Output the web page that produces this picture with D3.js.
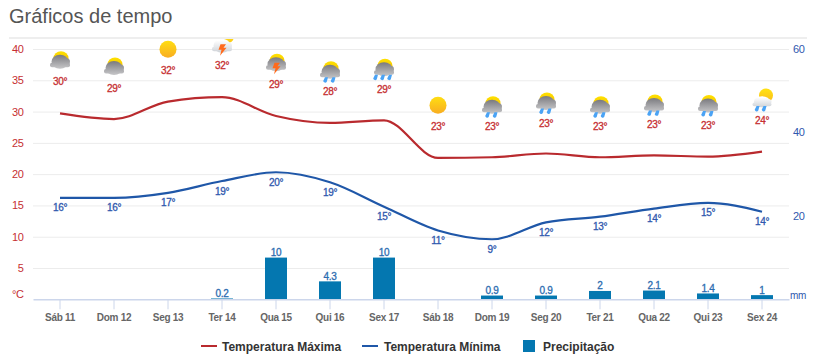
<!DOCTYPE html>
<html lang="pt">
<head>
<meta charset="utf-8">
<title>Gráficos de tempo</title>
<script src="https://cdn.jsdelivr.net/npm/d3@7"></script>
<style>
    body { margin: 0; background: #ffffff; font-family: "Liberation Sans", Arial, sans-serif; }
    svg { display: block; }
    text { font-family: "Liberation Sans", Arial, sans-serif; }
</style>
</head>
<body>
<div id="canvas"></div>
<script>
"use strict"

// Values
let days = ["Sáb 11", "Dom 12", "Seg 13", "Ter 14", "Qua 15", "Qui 16", "Sex 17",
    "Sáb 18", "Dom 19", "Seg 20", "Ter 21", "Qua 22", "Qui 23", "Sex 24"];
let tempMax = [29.7, 28.8, 31.6, 32.3, 29.3, 28.2, 28.6, 22.6, 22.7, 23.3, 22.7, 23.0, 22.8, 23.6];
let tempMin = [16.2, 16.2, 17.0, 18.9, 20.3, 18.7, 14.8, 11.0, 9.6, 12.3, 13.2, 14.5, 15.4, 14.0];
let tempMaxLabels = [30, 29, 32, 32, 29, 28, 29, 23, 23, 23, 23, 23, 23, 24];
let tempMinLabels = [16, 16, 17, 19, 20, 19, 15, 11, 9, 12, 13, 14, 15, 14];
let precipitation = [0, 0, 0, 0.2, 10, 4.3, 10, 0, 0.9, 0.9, 2, 2.1, 1.4, 1];
// Weather icons sit on a hidden series measured on the temperature axis
let iconLevels = [38.2, 37.2, 39.95, 40.75, 37.8, 36.6, 37.0, 31.0, 31.0, 31.6, 31.0, 31.3, 31.2, 32.0];
let iconTypes = ["cloudy", "cloudy", "sun", "lightStorm", "storm", "rain", "heavyRain",
    "sun", "rain", "rain", "rain", "rain", "rain", "lightRain"];
let tempTicks = [0, 5, 10, 15, 20, 25, 30, 35, 40];
let precipTicks = [0, 20, 40, 60];

let svgWidth = 813;
let svgHeight = 358;
let plotLeft = 33;
let plotRight = 789;
let plotTop = 38;
let plotBottom = 299.3;

let red = "#b92a2e";
let blue = "#1f57a8";
let labelRed = "#c62f32";
let labelBlue = "#2f58ae";
let barBlue = "#0477b0";

let svg = d3.select("#canvas")
    .append("svg")
    .attr("width", svgWidth)
    .attr("height", svgHeight);

let xScale = d3.scaleBand()
    .domain(days)
    .range([plotLeft, plotRight]);
let yTemp = d3.scaleLinear()
    .domain([0, 40])
    .range([plotBottom, 49]);
let yPrecip = d3.scaleLinear()
    .domain([0, 60])
    .range([plotBottom, 49]);

function centerX(i) {
    return xScale(days[i]) + xScale.bandwidth() / 2;
}

// Gradients and clip used by the icons
let defs = svg.append("defs");

function addGradient(id, x1, y1, x2, y2, stops) {
    let gradient = defs.append("linearGradient")
        .attr("id", id)
        .attr("gradientUnits", "userSpaceOnUse")
        .attr("x1", x1).attr("y1", y1).attr("x2", x2).attr("y2", y2);
    stops.forEach(function (s) {
        gradient.append("stop").attr("offset", s[0]).attr("stop-color", s[1]);
    });
}
addGradient("sunFill", 0, -9, 0, 9, [[0, "#ffdf12"], [1, "#f8ab22"]]);
addGradient("domeFill", 0, -9, 0, 0, [[0, "#ffe100"], [1, "#f6c400"]]);
addGradient("darkCloud", 0, -6, 0, 8, [[0, "#77777c"], [1, "#c4c4c6"]]);
addGradient("lightCloud", 0, -4, 0, 8, [[0, "#ffffff"], [1, "#cfd3d8"]]);

defs.append("clipPath")
    .attr("id", "plotClip")
    .append("rect")
    .attr("x", 0)
    .attr("y", plotTop + 1)
    .attr("width", svgWidth)
    .attr("height", svgHeight);

// Title and the rule under it
svg.append("text")
    .attr("x", 9)
    .attr("y", 23)
    .attr("font-size", 20)
    .attr("fill", "#555555")
    .text("Gráficos de tempo");

svg.append("line")
    .attr("x1", 9)
    .attr("x2", 807)
    .attr("y1", plotTop)
    .attr("y2", plotTop)
    .attr("stroke", "#dddddd")
    .attr("stroke-width", 1);

// Left axis, its ticks double as the grid
let leftAxis = svg.append("g")
    .attr("transform", "translate(" + plotLeft + ",0)")
    .call(d3.axisLeft(yTemp)
        .tickValues(tempTicks)
        .tickSize(-(plotRight - plotLeft))
        .tickFormat(function (d) { return d === 0 ? "°C" : d; }));
leftAxis.select(".domain").remove();
leftAxis.selectAll(".tick line")
    .attr("stroke", "#ececec")
    .attr("display", function (d) { return d === 0 ? "none" : null; });
leftAxis.selectAll(".tick text")
    .attr("x", -9.5)
    .attr("dy", function (d) { return d === 0 ? "-0.15em" : "0.32em"; })
    .attr("font-size", 11)
    .attr("letter-spacing", "-0.4px")
    .attr("fill", labelRed);

// Right axis for precipitation
let rightAxis = svg.append("g")
    .attr("transform", "translate(" + plotRight + ",0)")
    .call(d3.axisRight(yPrecip)
        .tickValues(precipTicks)
        .tickSize(0)
        .tickFormat(function (d) { return d === 0 ? "mm" : d; }));
rightAxis.select(".domain").remove();
rightAxis.selectAll(".tick text")
    .attr("x", function (d) { return d === 0 ? 1 : 4; })
    .attr("dy", function (d) { return d === 0 ? "-0.1em" : "0.32em"; })
    .attr("font-size", function (d) { return d === 0 ? 10 : 11; })
    .attr("letter-spacing", "-0.3px")
    .attr("fill", labelBlue);

// Precipitation bars and their values
svg.selectAll(".bar")
    .data(precipitation)
    .join("rect")
    .attr("class", "bar")
    .attr("x", function (d, i) { return centerX(i) - 11; })
    .attr("y", function (d) { return yPrecip(d); })
    .attr("width", 22)
    .attr("height", function (d) { return plotBottom - yPrecip(d); })
    .attr("fill", barBlue);

svg.selectAll(".barLabel")
    .data(precipitation)
    .join("text")
    .attr("class", "barLabel")
    .attr("x", function (d, i) { return centerX(i); })
    .attr("y", function (d) { return yPrecip(d) - 1.5; })
    .attr("text-anchor", "middle")
    .attr("font-size", 10)
    .attr("letter-spacing", "-0.3px")
    .attr("fill", "#2b6cb0")
    .attr("stroke", "#2b6cb0")
    .attr("stroke-width", 0.3)
    .text(function (d) { return d > 0 ? d : ""; });

// Bottom axis
let bottomAxis = svg.append("g")
    .attr("transform", "translate(0," + plotBottom + ")")
    .call(d3.axisBottom(xScale).tickSize(10).tickSizeOuter(0).tickPadding(5));
bottomAxis.select(".domain")
    .attr("stroke", "#ccd6eb")
    .attr("stroke-width", 1.5);
bottomAxis.selectAll(".tick line").attr("stroke", "#ccd6eb");
bottomAxis.selectAll(".tick text")
    .attr("font-size", 10)
    .attr("font-weight", "bold")
    .attr("letter-spacing", "-0.3px")
    .attr("fill", "#666666");

// Temperature lines
let tempLine = d3.line()
    .x(function (d, i) { return centerX(i); })
    .y(function (d) { return yTemp(d); })
    .curve(d3.curveMonotoneX);

svg.append("path")
    .attr("d", tempLine(tempMax))
    .attr("fill", "none")
    .attr("stroke", red)
    .attr("stroke-width", 2.2);

svg.append("path")
    .attr("d", tempLine(tempMin))
    .attr("fill", "none")
    .attr("stroke", blue)
    .attr("stroke-width", 2.2);

// Labels under the minimum line
svg.selectAll(".minLabel")
    .data(tempMinLabels)
    .join("text")
    .attr("class", "minLabel")
    .attr("x", function (d, i) { return centerX(i); })
    .attr("y", function (d, i) { return yTemp(tempMin[i]) + 13.5; })
    .attr("text-anchor", "middle")
    .attr("font-size", 10)
    .attr("letter-spacing", "-0.3px")
    .attr("fill", labelBlue)
    .attr("stroke", labelBlue)
    .attr("stroke-width", 0.3)
    .text(function (d) { return d + "°"; });

// Labels under the weather icons
svg.selectAll(".maxLabel")
    .data(tempMaxLabels)
    .join("text")
    .attr("class", "maxLabel")
    .attr("x", function (d, i) { return centerX(i); })
    .attr("y", function (d, i) { return yTemp(iconLevels[i]) + 25; })
    .attr("text-anchor", "middle")
    .attr("font-size", 10)
    .attr("letter-spacing", "-0.3px")
    .attr("fill", labelRed)
    .attr("stroke", labelRed)
    .attr("stroke-width", 0.3)
    .text(function (d) { return d + "°"; });

// Icon parts, drawn around the icon centre
function drawSun(g, cx, cy, r) {
    g.append("circle")
        .attr("cx", cx).attr("cy", cy).attr("r", r)
        .attr("fill", "url(#sunFill)");
}

function drawCloud(g, fill) {
    let parts = g.append("g").attr("fill", fill);
    parts.append("ellipse").attr("cx", 0).attr("cy", 1.5).attr("rx", 8.5).attr("ry", 7);
    parts.append("circle").attr("cx", 6.5).attr("cy", 1.5).attr("r", 3.5);
    parts.append("rect").attr("x", -10).attr("y", 2.5).attr("width", 20).attr("height", 4.5).attr("rx", 2);
}

function drawBolt(g, dy) {
    g.append("path")
        .attr("d", "M-1.5,0 L4,0 L1.5,3.5 L4.5,3.5 L-2,11.5 L-0.5,5.5 L-3.5,5.5 Z")
        .attr("transform", "translate(0," + dy + ")")
        .attr("fill", "#ff6a1c");
}

function drawDrops(g, xs, dy) {
    xs.forEach(function (x) {
        g.append("path")
            .attr("d", "M1,0 L4,0 L2.8,4.5 A2,2 0 0 1 -0.8,3.8 Z")
            .attr("transform", "translate(" + x + "," + dy + ")")
            .attr("fill", "#4aa3f5");
    });
}

function drawDome(g) {
    g.append("ellipse")
        .attr("cx", 1)
        .attr("cy", -2)
        .attr("rx", 7.5)
        .attr("ry", 7)
        .attr("fill", "url(#domeFill)");
}

function drawIcon(g, type) {
    if (type === "sun") {
        drawSun(g, 0, 0, 8.5);
    } else if (type === "lightStorm") {
        drawSun(g, 5, -8, 7);
        drawCloud(g, "url(#lightCloud)");
        drawBolt(g, 0);
    } else if (type === "lightRain") {
        drawSun(g, 4, -3.5, 7);
        g.append("g").attr("transform", "translate(0,1.5) scale(0.95,0.8)")
            .call(drawCloud, "url(#lightCloud)");
        drawDrops(g, [-6.5, 0.5], 7);
    } else {
        drawDome(g);
        drawCloud(g, "url(#darkCloud)");
        if (type === "storm") {
            drawBolt(g, 0);
        } else if (type === "rain") {
            drawDrops(g, [-6, 1.5], 7);
        } else if (type === "heavyRain") {
            drawDrops(g, [-10, -3, 4], 7);
        }
    }
}

let iconLayer = svg.append("g").attr("clip-path", "url(#plotClip)");

iconTypes.forEach(function (type, i) {
    let g = iconLayer.append("g")
        .attr("transform", "translate(" + centerX(i) + "," + yTemp(iconLevels[i]) + ")");
    drawIcon(g, type);
});

// Legend
let legendY = 346;
let legendItems = [
    { x: 201, color: red, label: "Temperatura Máxima", textX: 222 },
    { x: 362, color: blue, label: "Temperatura Mínima", textX: 384 }
];

legendItems.forEach(function (item) {
    svg.append("line")
        .attr("x1", item.x)
        .attr("x2", item.x + 16)
        .attr("y1", legendY)
        .attr("y2", legendY)
        .attr("stroke", item.color)
        .attr("stroke-width", 2);
    svg.append("text")
        .attr("x", item.textX)
        .attr("y", legendY + 4.5)
        .attr("font-size", 12)
        .attr("font-weight", "bold")
        .attr("fill", "#333333")
        .text(item.label);
});

svg.append("rect")
    .attr("x", 523)
    .attr("y", legendY - 6)
    .attr("width", 12)
    .attr("height", 12)
    .attr("fill", barBlue);

svg.append("text")
    .attr("x", 543)
    .attr("y", legendY + 4.5)
    .attr("font-size", 12)
    .attr("font-weight", "bold")
    .attr("fill", "#333333")
    .text("Precipitação");
</script>
</body>
</html>
